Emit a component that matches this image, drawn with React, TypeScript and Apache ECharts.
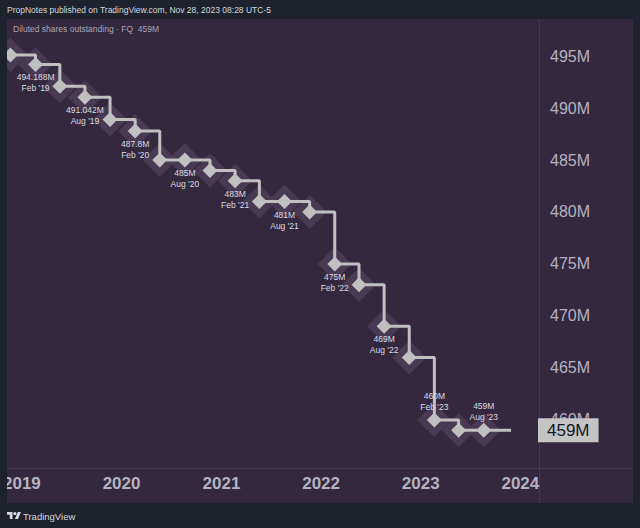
import React, { useEffect, useRef } from 'react';
import * as echarts from 'echarts';

// ---------- data ----------
const quarterDates = [
  '2018-11-20', '2019-02-20', '2019-05-20', '2019-08-20',
  '2019-11-20', '2020-02-20', '2020-05-20', '2020-08-20',
  '2020-11-20', '2021-02-20', '2021-05-20', '2021-08-20',
  '2021-11-20', '2022-02-20', '2022-05-20', '2022-08-20',
  '2022-11-20', '2023-02-20', '2023-05-20', '2023-08-20',
];
const sharesM = [
  495.1, 494.188, 492.1, 491.042,
  488.9, 487.8, 485, 485,
  484, 483, 481, 481,
  480, 475, 473, 469,
  466, 460, 459, 459,
];
const pointLabels = [
  '', "494.188M\nFeb '19", '', "491.042M\nAug '19",
  '', "487.8M\nFeb '20", '', "485M\nAug '20",
  '', "483M\nFeb '21", '', "481M\nAug '21",
  '', "475M\nFeb '22", '', "469M\nAug '22",
  '', "460M\nFeb '23", '', "459M\nAug '23",
];
const currentDate = '2023-11-28';
const currentValue = 459;
const axisStart = '2018-11-14';
const axisEnd = '2024-03-13';
const yMin = 455.38;
const yMax = 498.56;

const headerText = 'PropNotes published on TradingView.com, Nov 28, 2023 08:28 UTC-5';
const legendText = 'Diluted shares outstanding · FQ  459M';
const brandText = 'TradingView';

// ---------- styles ----------
const FONT = '"Liberation Sans", Arial, sans-serif';
const OUTER_BG = '#1e222d';
const PANEL_BG = '#34283e';
const HALO = '#4d3f59';
const LINE = '#c0c0c0';
const AXIS_TEXT = '#b4b3c0';
const YEAR_MS = 365 * 24 * 3600 * 1000;

const TV_LOGO_PATH =
  'M14 22H7V11H0V4h14v18zM28 22h-8l7.5-18h8L28 22zM24 8a4 4 0 1 1-8 0a4 4 0 1 1 8 0z';
let logoRegistered = false;
function ensureLogo() {
  if (logoRegistered) return;
  echarts.graphic.registerShape('tvlogo', echarts.graphic.extendPath(TV_LOGO_PATH, {}) as any);
  logoRegistered = true;
}

export default function App() {
  const ref = useRef<HTMLDivElement>(null);

  useEffect(() => {
    if (!ref.current) return;
    ensureLogo();
    const chart = echarts.init(ref.current, undefined, { renderer: 'svg' });

    const lastLabelled = quarterDates.length - 3;
    const lineData: any[] = quarterDates.map((d, i) => ({
      value: [d, sharesM[i]],
      label: {
        show: pointLabels[i] !== '',
        formatter: pointLabels[i],
        position: i >= lastLabelled ? 'top' : 'bottom',
      },
    }));
    lineData.push({ value: [currentDate, currentValue], symbol: 'none', label: { show: false } });

    const option: any = {
      animation: false,
      backgroundColor: OUTER_BG,
      textStyle: { fontFamily: FONT },
      grid: { left: 7, right: 100, top: 19, bottom: 60 },
      xAxis: {
        type: 'time',
        min: axisStart,
        max: axisEnd,
        minInterval: YEAR_MS,
        maxInterval: YEAR_MS,
        axisLine: { show: false },
        axisTick: { show: false },
        splitLine: { show: false },
        axisLabel: {
          formatter: '{yyyy}',
          color: AXIS_TEXT,
          fontSize: 17,
          fontWeight: 'bold',
          fontFamily: FONT,
          margin: 7,
          showMinLabel: false,
          showMaxLabel: false,
        },
      },
      yAxis: {
        type: 'value',
        position: 'right',
        min: yMin,
        max: yMax,
        splitNumber: 8,
        axisLine: { show: false },
        axisTick: { show: false },
        splitLine: { show: false },
        axisLabel: {
          formatter: (v: number) => `${v}M`,
          color: AXIS_TEXT,
          fontSize: 16,
          fontFamily: FONT,
          margin: 10,
          showMinLabel: false,
          showMaxLabel: false,
        },
      },
      series: [
        {
          type: 'scatter',
          data: quarterDates.map((d, i) => [d, sharesM[i]]),
          symbol: 'diamond',
          symbolSize: 34,
          itemStyle: { color: HALO },
          silent: true,
          z: 1,
        },
        {
          type: 'line',
          step: 'end',
          data: lineData,
          symbol: 'diamond',
          symbolSize: 15,
          showAllSymbol: true,
          lineStyle: { color: LINE, width: 3 },
          itemStyle: { color: LINE },
          label: {
            show: false,
            fontSize: 8.5,
            lineHeight: 11,
            color: '#dcdbe2',
            fontFamily: FONT,
            distance: 0,
          },
          silent: true,
          z: 3,
          markLine: {
            symbol: 'none',
            silent: true,
            z: 10,
            lineStyle: { color: 'rgba(0,0,0,0)', width: 0 },
            label: {
              show: true,
              position: 'end',
              formatter: `${currentValue}M`,
              backgroundColor: '#c4c4c4',
              color: '#131722',
              fontSize: 17,
              fontFamily: FONT,
              padding: [4, 9, 3, 9],
              distance: -2,
            },
            data: [{ yAxis: currentValue }],
          },
        },
      ],
      graphic: [
        {
          type: 'rect',
          z: -10,
          silent: true,
          shape: { x: 7, y: 19, width: 626, height: 484 },
          style: { fill: PANEL_BG },
        },
        {
          type: 'line',
          z: -5,
          silent: true,
          shape: { x1: 539.5, y1: 19, x2: 539.5, y2: 503 },
          style: { stroke: 'rgba(255,255,255,0.07)', lineWidth: 1 },
        },
        {
          type: 'line',
          z: -5,
          silent: true,
          shape: { x1: 7, y1: 468.5, x2: 633, y2: 468.5 },
          style: { stroke: 'rgba(255,255,255,0.07)', lineWidth: 1 },
        },
        {
          type: 'rect',
          z: 100,
          silent: true,
          shape: { x: 0, y: 0, width: 7, height: 528 },
          style: { fill: OUTER_BG },
        },
        {
          type: 'text',
          z: 101,
          x: 7,
          y: 10,
          style: {
            text: headerText,
            fill: '#d6d8de',
            fontSize: 8.5,
            fontFamily: FONT,
            align: 'left',
            verticalAlign: 'middle',
          },
        },
        {
          type: 'text',
          z: 101,
          x: 13,
          y: 29,
          style: {
            text: legendText,
            fill: '#aaa4b4',
            fontSize: 8.5,
            fontFamily: FONT,
            align: 'left',
            verticalAlign: 'middle',
          },
        },
        {
          type: 'tvlogo',
          z: 101,
          x: 7,
          y: 510.4,
          scaleX: 0.394,
          scaleY: 0.394,
          style: { fill: '#d6d8de' },
        },
        {
          type: 'text',
          z: 101,
          x: 23,
          y: 516,
          style: {
            text: brandText,
            fill: '#d6d8de',
            fontSize: 9.5,
            fontFamily: FONT,
            align: 'left',
            verticalAlign: 'middle',
          },
        },
      ],
    };

    chart.setOption(option);
    return () => chart.dispose();
  }, []);

  return (
    <div
      ref={ref}
      style={{ position: 'fixed', left: 0, top: 0, width: 640, height: 528 }}
    />
  );
}
